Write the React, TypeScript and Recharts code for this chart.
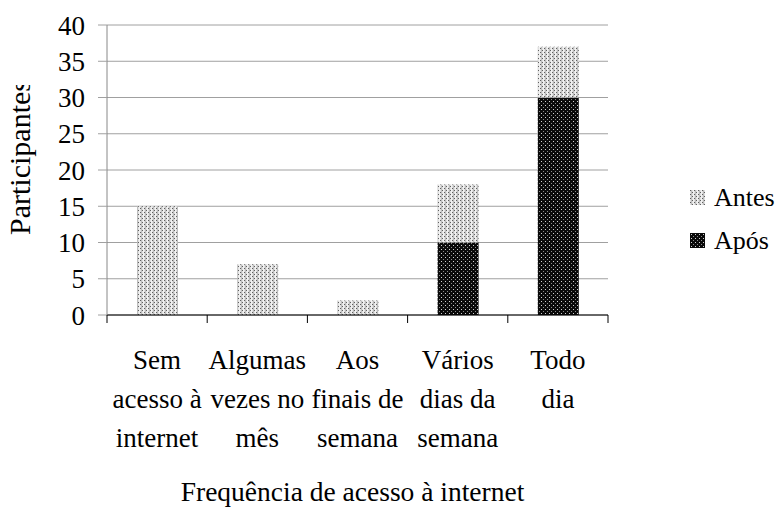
import React from 'react';
import { BarChart, Bar, XAxis, YAxis, CartesianGrid, Legend } from 'recharts';

const categories = [
  'Sem acesso à internet',
  'Algumas vezes no mês',
  'Aos finais de semana',
  'Vários dias da semana',
  'Todo dia',
];
const categoryLines = [
  ['Sem', 'acesso à', 'internet'],
  ['Algumas', 'vezes no', 'mês'],
  ['Aos', 'finais de', 'semana'],
  ['Vários', 'dias da', 'semana'],
  ['Todo', 'dia'],
];
const antesValues = [15, 7, 2, 8, 7];
const aposValues = [0, 0, 0, 10, 30];
const yTicks = [0, 5, 10, 15, 20, 25, 30, 35, 40];
const xTitle = 'Frequência de acesso à internet';
const yTitle = 'Participantes';
const legendItems = [
  { key: 'antes', name: 'Antes', fill: 'url(#patAntes)' },
  { key: 'apos', name: 'Após', fill: 'url(#patApos)' },
];

const data = categories.map((c, i) => ({ category: c, antes: antesValues[i], apos: aposValues[i] }));

const W = 783;
const H = 508;
const MARGIN = { top: 25, right: 175, left: 0, bottom: 0 };
const YAXIS_W = 107;
const XAXIS_H = 193;
const FONT = "'Liberation Serif', 'DejaVu Serif', 'Noto Serif', serif";

function XTick(props: any) {
  const { x, y, payload } = props;
  const idx = categories.indexOf(payload.value);
  const band = (W - MARGIN.left - MARGIN.right - YAXIS_W) / categories.length;
  const lines = categoryLines[idx] ?? [payload.value];
  return (
    <g>
      <line x1={x - band / 2} x2={x - band / 2} y1={y} y2={y + 8} stroke="#000" strokeWidth={1} />
      {idx === categories.length - 1 && (
        <line x1={x + band / 2} x2={x + band / 2} y1={y} y2={y + 8} stroke="#000" strokeWidth={1} />
      )}
      <text textAnchor="middle" fontFamily={FONT} fontSize={27} fill="#000">
        {lines.map((l, i) => (
          <tspan key={i} x={x} y={y + 54 + i * 39}>
            {l}
          </tspan>
        ))}
      </text>
    </g>
  );
}

function XTitle(props: any) {
  const vb = props.viewBox;
  return (
    <text x={vb.x + vb.width / 2 - 5} y={vb.y + 186} textAnchor="middle" fontFamily={FONT} fontSize={27.5} fill="#000">
      {xTitle}
    </text>
  );
}

function YTitle(props: any) {
  const vb = props.viewBox;
  const x = vb.x + 30;
  const y = vb.y + vb.height - 80;
  return (
    <g>
      <defs>
        <clipPath id="yTitleClip">
          <rect x={vb.x} y={vb.y + 60} width={vb.width} height={vb.height + 100} />
        </clipPath>
      </defs>
      <g clipPath="url(#yTitleClip)">
        <text x={x} y={y} transform={`rotate(-90 ${x} ${y})`} textAnchor="start" fontFamily={FONT} fontSize={30} fill="#000">
          {yTitle}
        </text>
      </g>
    </g>
  );
}

function LegendContent() {
  return (
    <div style={{ fontFamily: FONT, fontSize: 26, color: '#000' }}>
      {legendItems.map((it) => (
        <div key={it.key} style={{ display: 'flex', alignItems: 'center', height: 43 }}>
          <svg width={15} height={15} style={{ marginRight: 9 }}>
            <rect x={0} y={0} width={15} height={15} fill={it.fill} />
          </svg>
          <span>{it.name}</span>
        </div>
      ))}
    </div>
  );
}

export default function App() {
  return (
    <div style={{ position: 'absolute', left: 0, top: 0, width: W, height: H, background: '#fff', fontFamily: FONT }}>
      <svg width={0} height={0} style={{ position: 'absolute' }}>
        <defs>
          <pattern id="patAntes" width={4} height={4} patternUnits="userSpaceOnUse">
            <rect x={0} y={0} width={4} height={4} fill="#e0e0e0" />
            <rect x={0} y={0} width={1} height={1} fill="#606060" />
            <rect x={2} y={2} width={1} height={1} fill="#606060" />
            <rect x={1} y={0} width={1} height={4} fill="#bcbcbc" />
            <rect x={3} y={0} width={1} height={4} fill="#f2f2f2" />
          </pattern>
          <pattern id="patApos" width={4} height={4} patternUnits="userSpaceOnUse">
            <rect x={0} y={0} width={4} height={4} fill="#0a0a0a" />
            <rect x={1} y={1} width={1} height={1} fill="#d0d0d0" />
            <rect x={3} y={3} width={1} height={1} fill="#8a8a8a" />
          </pattern>
        </defs>
      </svg>
      <BarChart width={W} height={H} data={data} margin={MARGIN}>
        <CartesianGrid horizontal vertical={false} stroke="#a0a0a0" strokeWidth={1} />
        <XAxis
          dataKey="category"
          height={XAXIS_H}
          interval={0}
          tickSize={0}
          tickMargin={0}
          tickLine={false}
          axisLine={{ stroke: '#000', strokeWidth: 1 }}
          tick={<XTick />}
          label={{ content: (p: any) => <XTitle {...p} /> }}
        />
        <YAxis
          width={YAXIS_W}
          domain={[0, 40]}
          ticks={yTicks}
          interval={0}
          tickSize={9}
          tickMargin={13}
          axisLine={{ stroke: '#888', strokeWidth: 1 }}
          tickLine={{ stroke: '#a0a0a0', strokeWidth: 1 }}
          tick={{ fontFamily: FONT, fontSize: 27, fill: '#000' }}
          label={{ content: (p: any) => <YTitle {...p} /> }}
        />
        <Legend
          layout="vertical"
          align="center"
          verticalAlign="middle"
          content={<LegendContent />}
          wrapperStyle={{ left: 690, top: 176, width: 93 }}
        />
        <Bar dataKey="apos" name="Após" stackId="s" fill="url(#patApos)" barSize={41} isAnimationActive={false} />
        <Bar dataKey="antes" name="Antes" stackId="s" fill="url(#patAntes)" barSize={41} isAnimationActive={false} />
      </BarChart>
    </div>
  );
}
